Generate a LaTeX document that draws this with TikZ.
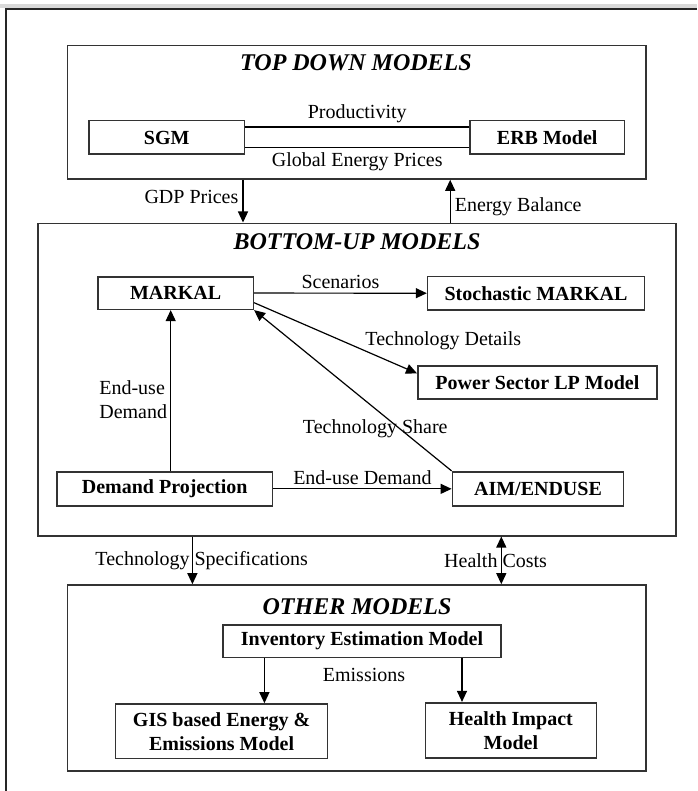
\documentclass[tikz,border=0pt]{standalone}
\usepackage{fontspec}
\setmainfont{Liberation Serif}
\usetikzlibrary{arrows.meta}

\begin{document}
\begin{tikzpicture}[x=0.5pt,y=-0.5pt,
	model/.style={shape=rectangle,draw=black!80,line width=0.8pt,inner sep=0pt,font=\bfseries,align=center},
	group/.style={shape=rectangle,draw=black!80,line width=0.8pt,inner sep=0pt},
	heading/.style={font=\large\bfseries\itshape},
	arr/.style={-{Triangle[length=5.5pt,width=5pt]},line width=0.6pt},
	twoarr/.style={{Triangle[length=5.5pt,width=5pt]}-{Triangle[length=5.5pt,width=5pt]},line width=0.6pt},
	link/.style={-,line width=0.6pt}]
	
	\useasboundingbox (0,0) rectangle (697,791);
	\fill[black!15] (0,4) rectangle (697,8);
	\draw[line width=1pt,black!85] (6,791) -- (6,9) -- (697,9);
	
	\node[group,minimum width=289.1pt,minimum height=66.65pt] (top) at (356.7,112.35) {};
	\node[group,minimum width=319.1pt,minimum height=156.2pt] (bottom) at (356.9,379.5) {};
	\node[group,minimum width=289.1pt,minimum height=93pt] (other) at (356.7,678) {};
	
	\node[heading] (toptitle) at (356,63) {TOP DOWN MODELS};
	\node[heading] (bottomtitle) at (357,242) {BOTTOM-UP MODELS};
	\node[heading] (othertitle) at (357,607) {OTHER MODELS};
	
	\node[model,minimum width=77.7pt,minimum height=16.8pt] (sgm) at (166.7,137.5) {SGM};
	\node[model,minimum width=77.2pt,minimum height=16.8pt] (erb) at (547.2,137.5) {ERB Model};
	
	\node[model,minimum width=77.75pt,minimum height=16.3pt] (markal) at (175.55,293) {MARKAL};
	\node[model,minimum width=108.4pt,minimum height=16.65pt] (stoch) at (536,293.3) {Stochastic MARKAL};
	\node[model,minimum width=119.6pt,minimum height=16.65pt] (power) at (537.4,382.35) {Power Sector LP Model};
	\node[model,minimum width=107.7pt,minimum height=17.15pt] (demand) at (164.7,488.85) {Demand Projection};
	\node[model,minimum width=85.6pt,minimum height=17.15pt] (aim) at (538,488.85) {AIM/ENDUSE};
	
	\node[model,minimum width=139pt,minimum height=16.15pt] (inventory) at (362,641.15) {Inventory Estimation Model};
	\node[model,minimum width=106pt,minimum height=27.15pt] (gis) at (221.6,731.15) {GIS based Energy \&\\Emissions Model};
	\node[model,minimum width=85.55pt,minimum height=27.5pt] (health) at (510.85,730.2) {Health Impact\\Model};
	\node (emis) at (364,675) {Emissions};
	
	\path[link] ([yshift=5.25pt]sgm.east) edge node[above,inner sep=2pt]{Productivity} ([yshift=5.25pt]erb.west);
	\path[link] ([yshift=-5.1pt]sgm.east) edge node[below,inner sep=2pt]{Global Energy Prices} ([yshift=-5.1pt]erb.west);
	
	\path[arr] ([xshift=-56.85pt]top.south) edge node[pos=0.4,left,inner sep=2pt]{GDP Prices} ([xshift=-56.85pt]top.south |- bottom.north);
	\path[arr] ([xshift=46.65pt]bottom.north) edge node[pos=0.37,right,inner sep=2pt]{Energy Balance} ([xshift=46.65pt]bottom.north |- top.south);
	
	\path[arr] (markal) edge node[above,inner sep=2pt]{Scenarios} (stoch);
	\path[arr] ([yshift=-4.85pt]markal.east) edge node[pos=0.68,anchor=south west,inner sep=0pt]{Technology Details} ([yshift=4.5pt]power.west);
	\path[arr] (aim.north west) edge node[pos=0.26,xshift=-12.5pt]{Technology Share} (markal.south east);
	\path[arr] ([xshift=3pt]demand.north) edge node[pos=0.44,left,align=left,inner sep=1.5pt]{End-use\\Demand} ([xshift=3pt]demand.north |- markal.south);
	\path[arr] (demand) edge node[above,inner sep=2pt]{End-use Demand} (aim);
	
	\path[arr] ([xshift=-82.25pt]bottom.south) edge node[xshift=4.65pt]{Technology Specifications} ([xshift=-82.25pt]bottom.south |- other.north);
	\path[twoarr] ([xshift=72.2pt]bottom.south) edge node[xshift=-2.85pt]{Health Costs} ([xshift=72.2pt]bottom.south |- other.north);
	
	\path[arr] ([xshift=-48.8pt]inventory.south) edge ([xshift=-48.8pt]inventory.south |- gis.north);
	\path[arr] ([xshift=50pt]inventory.south) edge ([xshift=50pt]inventory.south |- health.north);
	
\end{tikzpicture}
\end{document}
